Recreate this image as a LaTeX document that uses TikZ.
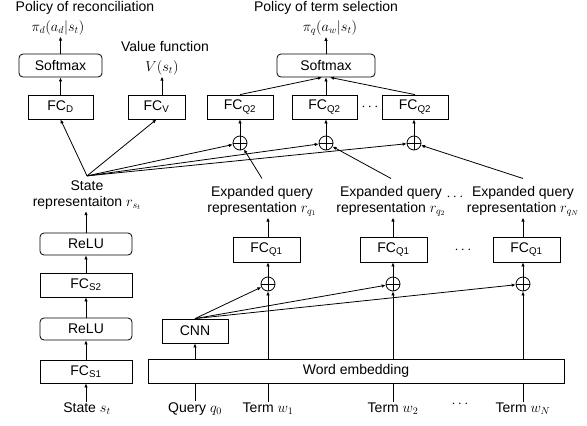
\documentclass[tikz,border=0pt]{standalone}
\usepackage{fontspec}
\setmainfont{Liberation Sans}
\usetikzlibrary{arrows.meta}

\tikzset{
  box/.style={draw, line width=0.8pt, minimum height=24pt, inner sep=0pt},
  rbox/.style={box, rounded corners=4pt, minimum height=23pt},
  sumop/.style={draw, circle, line width=0.8pt, minimum size=14pt, inner sep=0pt,
    path picture={\draw[line width=0.8pt] (path picture bounding box.north) -- (path picture bounding box.south)
      (path picture bounding box.west) -- (path picture bounding box.east);}},
  lbl/.style={align=center, inner sep=1pt},
  arr/.style={-{Latex[length=4pt,width=3.5pt]}, line width=0.8pt},
}

\begin{document}
\begin{tikzpicture}[x=1pt, y=-1pt, font=\fontsize{14}{16}\selectfont, line width=0.8pt]
        \useasboundingbox (0,0) rectangle (587,426);

        % reconciliation and value heads
        \node[lbl] (tpd) at (85,8) {Policy of reconciliation};
        \node[lbl] (pid) at (58,28) {$\pi_d(a_d|s_t)$};
        \node[rbox, minimum width=83pt] (smd) at (60.5,65.5) {Softmax};
        \node[box, minimum width=65pt] (fcd) at (60.5,107) {FC\textsubscript{D}};
        \node[lbl] (tv) at (165,46) {Value function};
        \node[lbl] (vs) at (162,68) {$V(s_t)$};
        \node[box, minimum width=57pt] (fcv) at (156.5,107) {FC\textsubscript{V}};

        \draw[arr] (fcd.north) -- (smd.south);
        \draw[arr] (smd.north) -- (smd.north |- pid.south);
        \draw[arr] (fcv.north -| vs.south) -- (vs.south);

        % term selection head
        \node[lbl] (tpq) at (326,8) {Policy of term selection};
        \node[lbl] (piq) at (330,28) {$\pi_q(a_w|s_t)$};
        \node[rbox, minimum width=98pt] (smq) at (326,65.5) {Softmax};
        \node[box, minimum width=66pt] (fqa) at (240,107) {FC\textsubscript{Q2}};
        \node[box, minimum width=65pt] (fqb) at (324.5,107) {FC\textsubscript{Q2}};
        \node[box, minimum width=66pt] (fqc) at (415,107) {FC\textsubscript{Q2}};
        \node (dq) at (370,107) {$\cdots$};
        \node[sumop] (pqa) at (240,143) {};
        \node[sumop] (pqb) at (326,143) {};
        \node[sumop] (pqc) at (414,143) {};

        \draw[arr] (smq.north) -- (smq.north |- piq.south);
        \draw[arr] (fqa.north) -- ([xshift=-4pt]smq.south);
        \draw[arr] (fqb.north -| smq.south) -- (smq.south);
        \draw[arr] (fqc.north) -- ([xshift=4pt]smq.south);
        \draw[arr] (pqa) -- (pqa.north |- fqa.south);
        \draw[arr] (pqb) -- (pqb.north |- fqb.south);
        \draw[arr] (pqc) -- (pqc.north |- fqc.south);

        % state branch
        \node[lbl] (srep) at (87,195) {State\\representaiton $r_{s_t}$};
        \node[rbox, minimum width=92pt, minimum height=22pt] (relb) at (86,244) {ReLU};
        \node[box, minimum width=92pt] (fcsb) at (86,285) {FC\textsubscript{S2}};
        \node[rbox, minimum width=92pt, minimum height=22pt] (rela) at (86,329) {ReLU};
        \node[box, minimum width=92pt, minimum height=23pt] (fcsa) at (86,371.5) {FC\textsubscript{S1}};
        \node[lbl] (state) at (87,409) {State $s_t$};

        \draw[arr] (fcsa.south |- state.north) -- (fcsa.south);
        \draw[arr] (fcsa.north) -- (rela.south);
        \draw[arr] (rela.north) -- (fcsb.south);
        \draw[arr] (fcsb.north) -- (relb.south);
        \draw[arr] (relb.north) -- (relb.north |- srep.south);

        \coordinate (sfan) at ([yshift=3pt]srep.north);
        \draw[arr] (sfan) -- (fcd.south);
        \draw[arr] (sfan) -- (fcv.south);
        \draw[arr] (sfan) -- (pqa);
        \draw[arr] (sfan) -- (pqb);
        \draw[arr] (sfan) -- (pqc);

        % query branch
        \node[box, minimum width=416pt] (emb) at (356,371) {Word embedding};
        \node[box, minimum width=66pt] (cnn) at (195,331) {CNN};
        \node[lbl] (qry) at (195,409) {Query $q_0$};
        \node[lbl] (twa) at (268,409) {Term $w_1$};
        \node[lbl] (twb) at (393,409) {Term $w_2$};
        \node[lbl] (twc) at (523,409) {Term $w_N$};
        \node (dw) at (460,404) {$\cdots$};

        \node[sumop] (pa) at (268,284) {};
        \node[sumop] (pb) at (393,284) {};
        \node[sumop] (pc) at (523,284) {};
        \node[box, minimum width=67pt, minimum height=25pt] (fa) at (266.5,249.5) {FC\textsubscript{Q1}};
        \node[box, minimum width=67pt, minimum height=25pt] (fb) at (393.5,249.5) {FC\textsubscript{Q1}};
        \node[box, minimum width=67pt, minimum height=25pt] (fc) at (526.5,249.5) {FC\textsubscript{Q1}};
        \node (df) at (463,250) {$\cdots$};
        \node[lbl] (ea) at (262,201) {Expanded query\\representation $r_{q_1}$};
        \node[lbl] (eb) at (391,201) {Expanded query\\representation $r_{q_2}$};
        \node[lbl] (ec) at (523,201) {Expanded query\\representation $r_{q_N}$};
        \node (de) at (455,197) {$\cdots$};

        \draw (qry.north) -- (qry.north |- emb.south);
        \draw[arr] (cnn.south |- emb.north) -- (cnn.south);

        \draw (twa.north) -- (twa.north |- emb.south);
        \draw (twb.north) -- (twb.north |- emb.south);
        \draw (twc.north) -- (twc.north |- emb.south);
        \draw[arr] (pa.south |- emb.north) -- (pa.south);
        \draw[arr] (pb.south |- emb.north) -- (pb.south);
        \draw[arr] (pc.south |- emb.north) -- (pc.south);

        \draw[arr] (cnn.north) -- (pa);
        \draw[arr] (cnn.north) -- (pb);
        \draw[arr] (cnn.north) -- (pc);

        \draw[arr] (pa.north) -- (pa.north |- fa.south);
        \draw[arr] (pb.north) -- (pb.north |- fb.south);
        \draw[arr] (pc.north) -- (pc.north |- fc.south);
        \draw[arr] (pa.north |- fa.north) -- (pa.north |- ea.south);
        \draw[arr] (pb.north |- fb.north) -- (pb.north |- eb.south);
        \draw[arr] (pc.north |- fc.north) -- (pc.north |- ec.south);

        \draw[arr] ([yshift=6pt]ea.north) -- (pqa);
        \draw[arr] ([yshift=6pt]eb.north) -- (pqb);
        \draw[arr] ([yshift=6pt]ec.north) -- (pqc);
\end{tikzpicture}
\end{document}
